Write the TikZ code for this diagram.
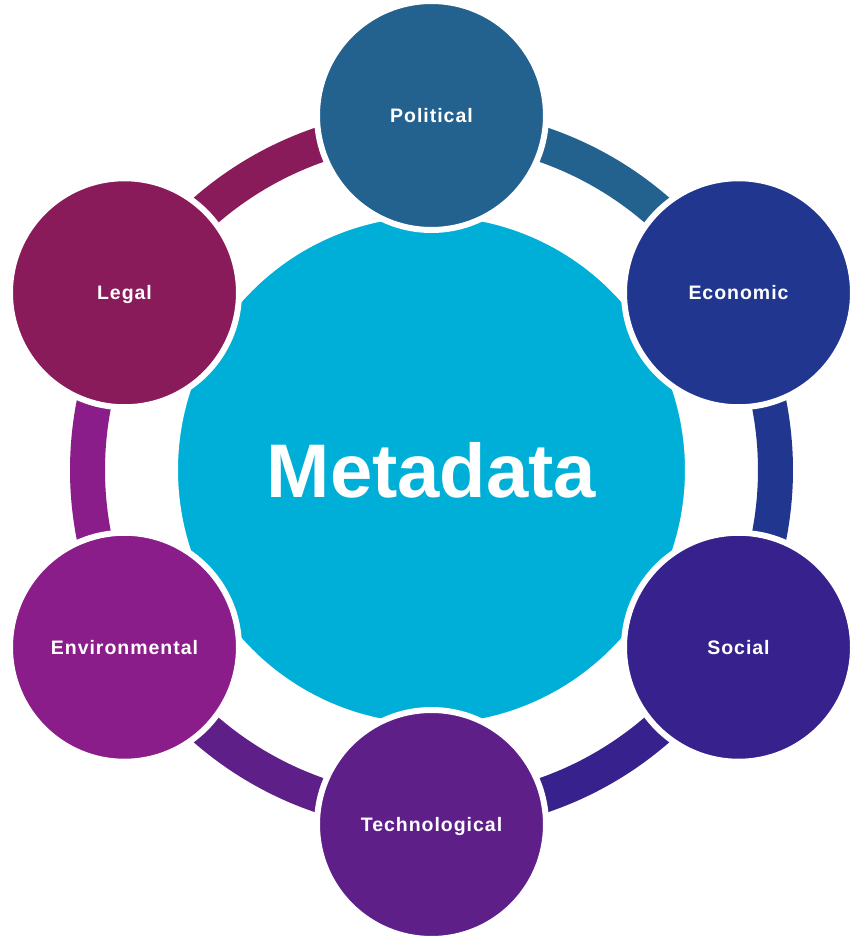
\documentclass[tikz,border=0pt]{standalone}
\usepackage{fontspec}
\setmainfont{Liberation Sans}
\newfontfamily\labelfont{Liberation Sans}[LetterSpace=5]
\usepackage{xcolor}
\usepackage{tikz}

\definecolor{metacyan}{HTML}{00AFD7}
\definecolor{politicalblue}{HTML}{23618F}
\definecolor{economicblue}{HTML}{21368E}
\definecolor{socialviolet}{HTML}{37218C}
\definecolor{techpurple}{HTML}{5E1F89}
\definecolor{envpurple}{HTML}{8A1D89}
\definecolor{legalplum}{HTML}{8A1B5A}

\begin{document}
\begin{tikzpicture}[x=1pt, y=1pt, every node/.style={circle, draw=white, line width=6pt, inner sep=0pt, text=white}, factor/.style={minimum size=229pt, text height=14pt, text depth=0pt, font=\labelfont\bfseries\fontsize{19.5}{22}\selectfont}, ring/.style={line width=35pt}]
                \useasboundingbox (-431.5,-468) rectangle (420.5,470);
                \coordinate (O) at (0,0);

                % Outer ring, one piece per factor (clockwise)
                \draw[ring, politicalblue] ([shift={(90:344)}]O) arc[start angle=90, end angle=30, radius=344];
                \draw[ring, economicblue] ([shift={(30:344)}]O) arc[start angle=30, end angle=-30, radius=344];
                \draw[ring, socialviolet] ([shift={(-30:344)}]O) arc[start angle=-30, end angle=-90, radius=344];
                \draw[ring, techpurple] ([shift={(-90:344)}]O) arc[start angle=-90, end angle=-150, radius=344];
                \draw[ring, envpurple] ([shift={(210:344)}]O) arc[start angle=210, end angle=150, radius=344];
                \draw[ring, legalplum] ([shift={(150:344)}]O) arc[start angle=150, end angle=90, radius=344];

                % Hub
                \node[fill=metacyan, minimum size=513pt, font=\bfseries\fontsize{76}{80}\selectfont] (meta) at (O) {Metadata};

                % Factors
                \node[factor, fill=politicalblue] (pol) at (90:354.5) {Political};
                \node[factor, fill=economicblue] (eco) at (30:354.5) {Economic};
                \node[factor, fill=socialviolet] (soc) at (-30:354.5) {Social};
                \node[factor, fill=techpurple] (tech) at (-90:354.5) {Technological};
                \node[factor, fill=envpurple] (env) at (210:354.5) {Environmental};
                \node[factor, fill=legalplum] (leg) at (150:354.5) {Legal};
            \end{tikzpicture}
\end{document}
